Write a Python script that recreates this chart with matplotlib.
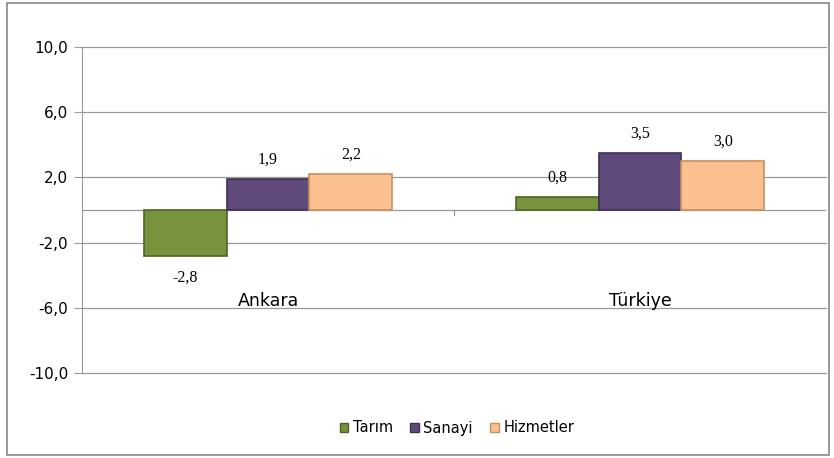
import matplotlib.pyplot as plt
from matplotlib.patches import Rectangle, Patch
import numpy as np

# data
regions = ["Ankara", "Türkiye"]
sectors = ["Tarım", "Sanayi", "Hizmetler"]
tarim = [-2.8, 0.8]
sanayi = [1.9, 3.5]
hizmetler = [2.2, 3.0]
yticks = [-10, -6, -2, 2, 6, 10]

colors = ["#77933C", "#604A7B", "#FAC090"]
edges = ["#4F6228", "#3F3151", "#C89060"]

fig = plt.figure(figsize=(8.34, 4.58), dpi=100)
ax = fig.add_axes([82/834, 1-373/458, 744/834, 326/458])

x = np.arange(len(regions))
w = 0.223
for i, vals in enumerate([tarim, sanayi, hizmetler]):
    pos = x + (i - 1) * w
    ax.bar(pos, vals, width=w, color=colors[i], edgecolor=edges[i], linewidth=1.2, zorder=3)
    for px, v in zip(pos, vals):
        off = 14 if v >= 0 else -16
        ax.annotate(f"{v:.1f}".replace(".", ","), (px, v), xytext=(0, off),
                    textcoords="offset points", ha="center", va="center",
                    fontsize=11.5, family="Liberation Serif", zorder=4)

ax.set_xlim(-0.5, 1.5)
ax.set_ylim(-10, 10)
ax.set_yticks(yticks)
ax.set_yticklabels([f"{t:.1f}".replace(".", ",") for t in yticks], fontsize=11, family="DejaVu Sans")
ax.yaxis.grid(True, color="#999999", linewidth=0.9, zorder=0)
for gl in ax.get_ygridlines():
    gl.set_clip_on(False)
ax.axhline(0, color="#999999", linewidth=0.9, zorder=1)
ax.tick_params(axis="y", length=6, color="#999999", pad=4)
ax.set_xticks([])
ax.plot([0.5, 0.5], [0, -0.3], color="#999999", linewidth=0.9, zorder=1)
for s in ["top", "right", "bottom"]:
    ax.spines[s].set_visible(False)
ax.spines["left"].set_color("#999999")

for xi, name in zip(x, regions):
    ax.text(xi, -5.6, name, ha="center", va="center", fontsize=12.5, family="DejaVu Sans")

handles = [Patch(facecolor=c, edgecolor=e) for c, e in zip(colors, edges)]
fig.legend(handles, sectors, loc="center", bbox_to_anchor=(0.548, 1-428/458), ncol=3,
           frameon=False, fontsize=10.5, handlelength=0.6, handleheight=0.6,
           handletextpad=0.3, columnspacing=1.2)

fig.patches.append(Rectangle((7/834, 1-455/458), 822/834, 452/458, transform=fig.transFigure,
                             fill=False, edgecolor="#888888", linewidth=1.2))

plt.savefig("out.png", dpi=100)
